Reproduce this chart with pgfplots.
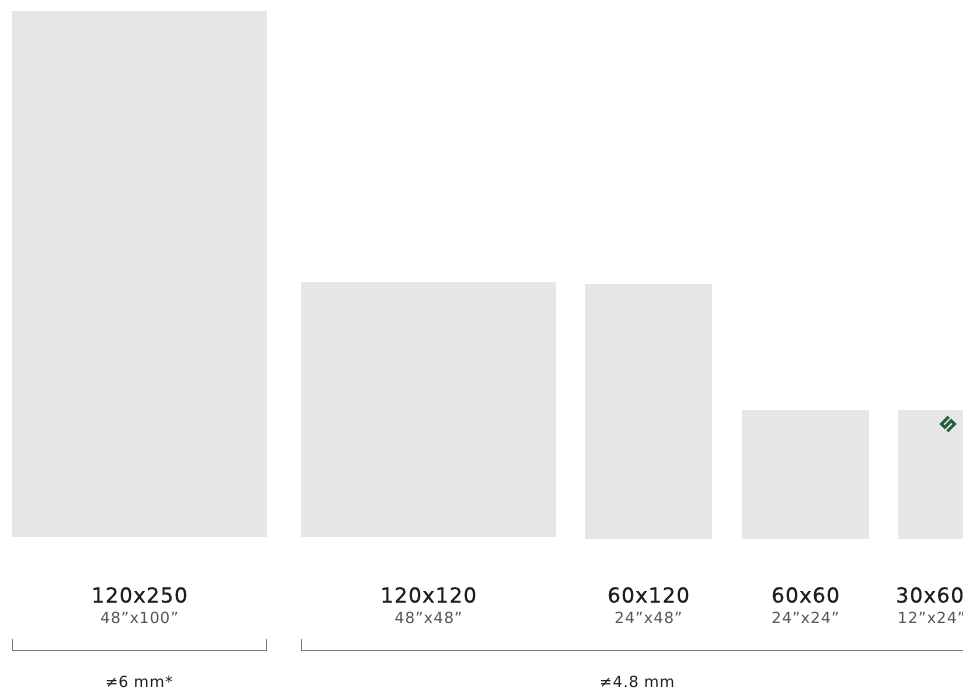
\documentclass[border=0pt]{standalone}
\usepackage{pgfplots}
\pgfplotsset{compat=1.18}
\usepackage{fontspec}
\setmainfont{DejaVu Sans}
\newfontfamily\labfont[LetterSpace=4]{DejaVu Sans}
\newfontfamily\mainlabfont[LetterSpace=4, FakeBold=0.6]{DejaVu Sans}
\definecolor{tile}{RGB}{229,230,232}
\definecolor{lab}{RGB}{30,30,30}
\definecolor{sub}{RGB}{85,85,85}
\definecolor{brk}{RGB}{120,120,120}
\definecolor{logo}{RGB}{38,98,58}
\begin{document}
\begin{tikzpicture}
\begin{axis}[
  scale only axis, width=722.25pt, height=520.5pt,
  xmin=0, xmax=963, ymin=0, ymax=694, y dir=reverse,
  hide axis, clip=false,
]
% tiles (pixel coordinates, top-left origin)
\addplot[fill=tile, draw=none] coordinates {(12,11) (267,11) (267,537) (12,537)} -- cycle;
\addplot[fill=tile, draw=none] coordinates {(301,282) (556,282) (556,537) (301,537)} -- cycle;
\addplot[fill=tile, draw=none] coordinates {(585,284) (712,284) (712,539) (585,539)} -- cycle;
\addplot[fill=tile, draw=none] coordinates {(742,410) (869,410) (869,539) (742,539)} -- cycle;
\addplot[fill=tile, draw=none] coordinates {(898,410) (970,410) (970,539) (898,539)} -- cycle;
% brackets
\addplot[brk, line width=0.75pt] coordinates {(12,639) (12,650) (266,650) (266,639)};
\addplot[brk, line width=0.75pt] coordinates {(301,639) (301,650) (970,650)};
% labels
\node[text=lab, font=\mainlabfont\fontsize{15.5}{18}\selectfont] at (axis cs:139.5,595) {120x250};
\node[text=sub, font=\labfont\fontsize{11.5}{14}\selectfont] at (axis cs:139.5,618) {48”x100”};
\node[text=lab, font=\mainlabfont\fontsize{15.5}{18}\selectfont] at (axis cs:428.5,595) {120x120};
\node[text=sub, font=\labfont\fontsize{11.5}{14}\selectfont] at (axis cs:428.5,618) {48”x48”};
\node[text=lab, font=\mainlabfont\fontsize{15.5}{18}\selectfont] at (axis cs:648.5,595) {60x120};
\node[text=sub, font=\labfont\fontsize{11.5}{14}\selectfont] at (axis cs:648.5,618) {24”x48”};
\node[text=lab, font=\mainlabfont\fontsize{15.5}{18}\selectfont] at (axis cs:805.5,595) {60x60};
\node[text=sub, font=\labfont\fontsize{11.5}{14}\selectfont] at (axis cs:805.5,618) {24”x24”};
\node[text=lab, font=\mainlabfont\fontsize{15.5}{18}\selectfont, anchor=west] at (axis cs:891,595) {30x60};
\node[text=sub, font=\labfont\fontsize{11.5}{14}\selectfont, anchor=west] at (axis cs:893,618) {12”x24”};
\node[text=lab, font=\labfont\fontsize{11.5}{14}\selectfont] at (axis cs:139,682) {≠6 mm*};
\node[text=lab, font=\labfont\fontsize{11.5}{14}\selectfont] at (axis cs:637,682) {≠4.8 mm};
% logo
\begin{scope}[shift={(axis cs:948,424)}, rotate=45, scale=0.7]
\draw[logo, line width=2.2pt, miter limit=10] (6pt,5pt) -- (-5pt,5pt) -- (-5pt,0pt) -- (5pt,0pt) -- (5pt,-5pt) -- (-6pt,-5pt);
\end{scope}
\end{axis}
\pgfresetboundingbox
\path (current axis.south west) rectangle (current axis.north east);
\end{tikzpicture}
\end{document}
